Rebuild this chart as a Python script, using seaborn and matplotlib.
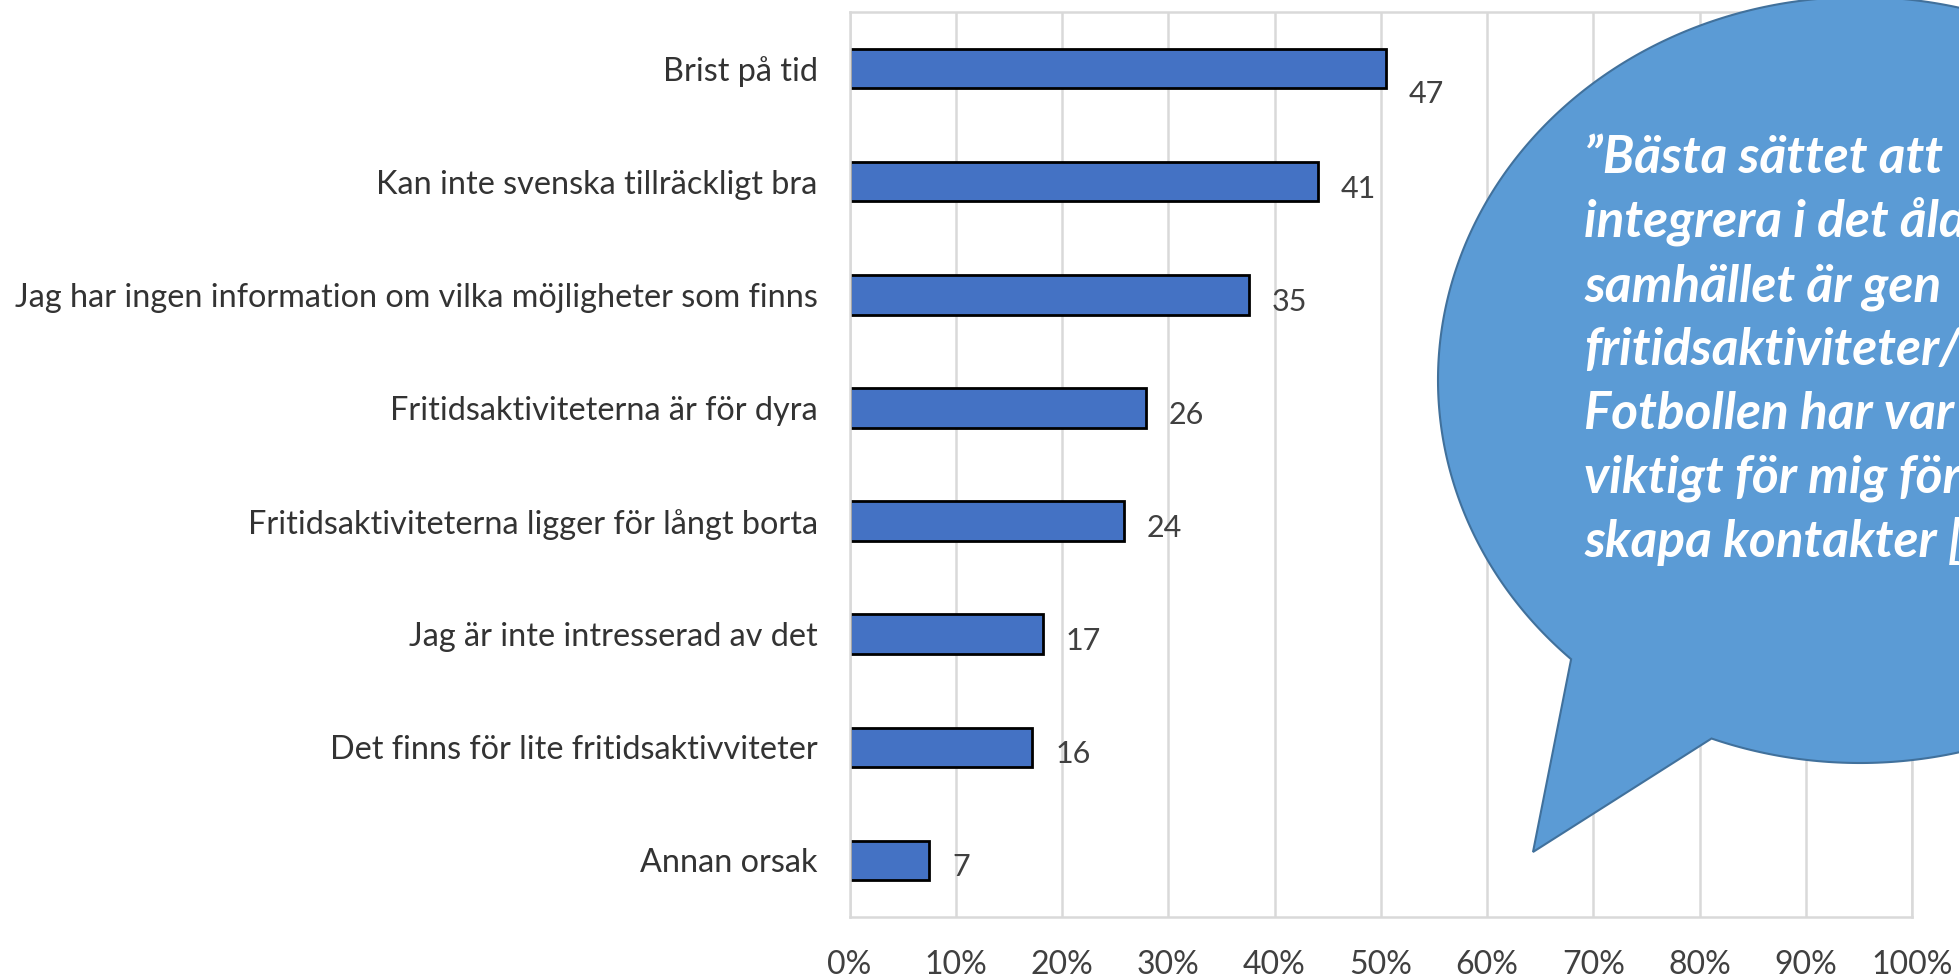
import numpy as np
import pandas as pd
import seaborn as sns
import matplotlib.pyplot as plt
from matplotlib.patches import Polygon

# reasons (top to bottom), number of answers and share of respondents in %
categories = ['Brist på tid',
              'Kan inte svenska tillräckligt bra',
              'Jag har ingen information om vilka möjligheter som finns',
              'Fritidsaktiviteterna är för dyra',
              'Fritidsaktiviteterna ligger för långt borta',
              'Jag är inte intresserad av det',
              'Det finns för lite fritidsaktivviteter',
              'Annan orsak']
counts = [47, 41, 35, 26, 24, 17, 16, 7]
share = [50.5, 44.1, 37.6, 27.9, 25.8, 18.2, 17.2, 7.5]

xticks = [0, 10, 20, 30, 40, 50, 60, 70, 80, 90, 100]
xticklabels = ['0%', '10%', '20%', '30%', '40%', '50%', '60%', '70%', '80%', '90%', '100%']

quote = ['”Bästa sättet att',
         'integrera i det åld',
         'samhället är gen',
         'fritidsaktiviteter/',
         'Fotbollen har var',
         'viktigt för mig för',
         'skapa kontakter [']

W, H = 1959, 977
sns.set_theme(style='white')
plt.rcParams['font.family'] = ['Lato', 'DejaVu Sans']

fig = plt.figure(figsize=(W / 100, H / 100), dpi=100)
ax = fig.add_axes([849.6 / W, 1 - 917 / H, (1912 - 849.6) / W, (917 - 12) / H])

df = pd.DataFrame({'orsak': categories, 'andel': share, 'antal': counts})
sns.barplot(data=df, x='andel', y='orsak', orient='h', color='#4472C4',
            saturation=1, edgecolor='black', linewidth=2, width=0.35, ax=ax)

ax.set_xlim(0, 100)
ax.set_ylim(7.5, -0.5)
ax.set_xticks(xticks)
ax.set_xticklabels(xticklabels)
ax.set_xlabel('')
ax.set_ylabel('')
ax.tick_params(axis='x', length=0, pad=24, labelsize=23, labelcolor='#404040')
ax.tick_params(axis='y', length=0, pad=23, labelsize=23.3, labelcolor='#333333')
ax.xaxis.grid(True, color='#d9d9d9', lw=1.8)
ax.set_axisbelow(True)
for sp in ax.spines.values():
    sp.set_color('#d9d9d9')
    sp.set_linewidth(1.8)

# value labels next to each bar
for i, (s, c) in enumerate(zip(df['andel'], df['antal'])):
    dy = -18 if i == 0 else -5
    ax.annotate(str(c), xy=(s, i), xytext=(16.5, dy), textcoords='offset points',
                va='center', ha='left', fontsize=22, color='#404040')

# speech bubble callout (pixel coords -> figure fraction)
cx, cy, a, b = 1860, 380, 422, 383
t = np.deg2rad(np.linspace(133.2, 110.6 + 360, 500))
px = np.append(cx + a * np.cos(t), 1533)
py = np.append(cy + b * np.sin(t), 852)
bubble = Polygon(np.column_stack([px / W, 1 - py / H]), closed=True,
                 transform=fig.transFigure, facecolor='#5B9BD5',
                 edgecolor='#41719C', lw=1.5, zorder=5)
fig.add_artist(bubble)

for i, line in enumerate(quote):
    fig.text(1584 / W, 1 - (173 + 64 * i) / H, line, color='white', fontsize=37,
             fontweight='bold', fontstyle='italic', va='baseline', ha='left', zorder=6)

fig.savefig('out.png', dpi=100)
